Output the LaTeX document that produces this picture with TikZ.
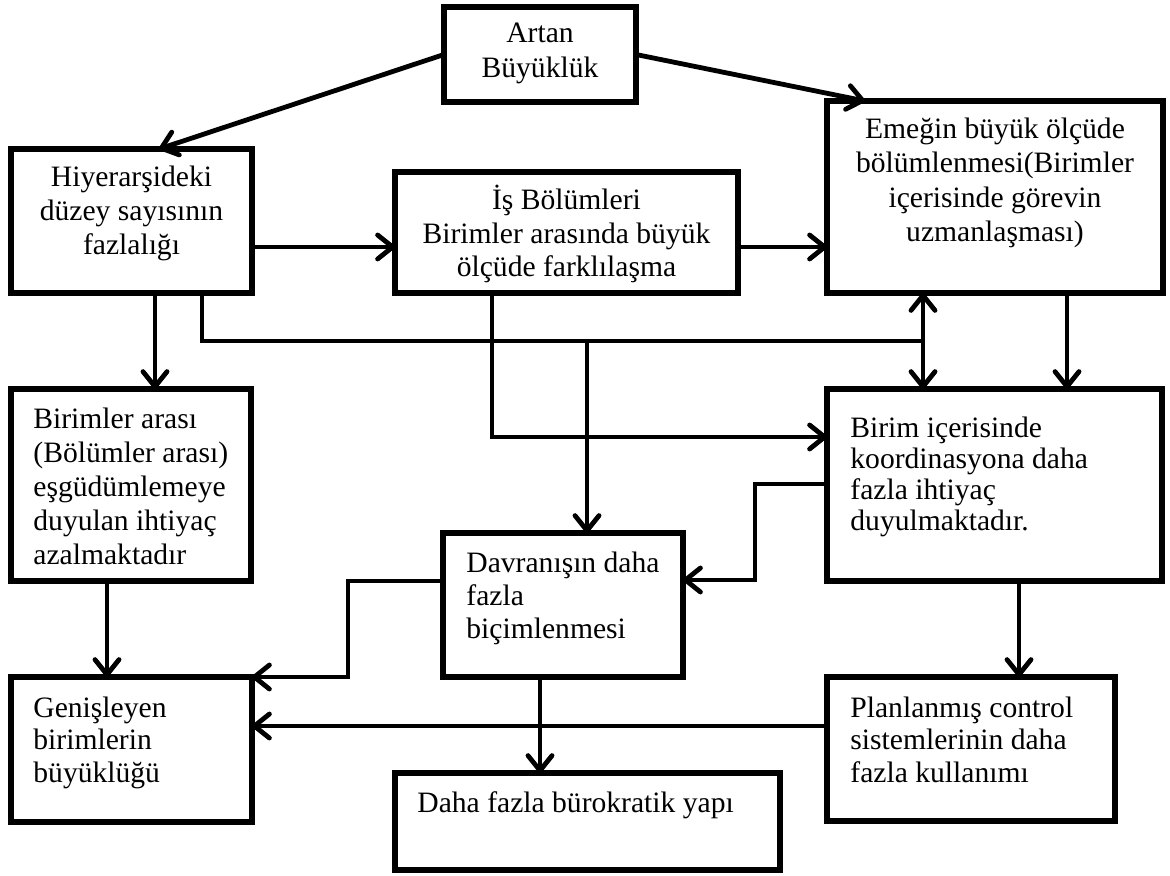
\documentclass[tikz,border=0pt]{standalone}
\usepackage{fontspec}
\setmainfont{Liberation Serif}
\usetikzlibrary{calc,arrows.meta}
\begin{document}
\begin{tikzpicture}[x=0.5pt,y=-0.5pt,
  box/.style 2 args={draw, line width=2.8pt, inner sep=0pt, outer sep=0pt,
    minimum width=#1*0.5pt, minimum height=#2*0.5pt},
  txtc/.style={font=\fontsize{14.8}{#1}\selectfont, inner sep=0pt, align=center, anchor=base},
  txtl/.style={font=\fontsize{14.8}{#1}\selectfont, inner sep=0pt, align=left, anchor=base west},
  con/.style={line width=2.4pt},
  tip/.style={Straight Barb[length=7.5pt,width=12pt,round]},
  arr/.style={line width=2.4pt, -{Straight Barb[length=7.5pt,width=12pt,round]}},
  darr/.style={line width=2.4pt, {Straight Barb[length=7.5pt,width=12pt,round]}-{Straight Barb[length=7.5pt,width=12pt,round]}}
]
\path[use as bounding box] (0,0) rectangle (1170,876);

% boxes
\node[box={192}{95}]  (A)  at (540,54.5) {};
\node[box={241}{144}] (H)  at (131.5,221) {};
\node[box={343}{121}] (I)  at (566.5,232.5) {};
\node[box={336}{192}] (E)  at (995,197) {};
\node[box={240}{192}] (BA) at (131,485) {};
\node[box={335}{192}] (BI) at (994.5,485) {};
\node[box={240}{144}] (D)  at (563,605) {};
\node[box={241}{145}] (G)  at (131.5,749.5) {};
\node[box={288}{144}] (P)  at (971,749) {};
\node[box={385}{97}]  (B)  at (587.5,821.5) {};

% texts (anchor = baseline of the last line)
\node[txtc=17.5pt] (tA) at (540,78) {Artan\\Büyüklük};
\node[txtc=17pt] (tH) at (131.5,255) {Hiyerarşideki\\düzey sayısının\\fazlalığı};
\node[txtc=16.8pt] (tI) at (566.5,277) {İş Bölümleri\\Birimler arasında büyük\\ölçüde farklılaşma};
\node[txtc=17.3pt] (tE) at (995,242) {Emeğin büyük ölçüde\\bölümlenmesi(Birimler\\içerisinde görevin\\uzmanlaşması)};
\node[txtl=17pt] (tBA) at (33,564) {Birimler arası\\(Bölümler arası)\\eşgüdümlemeye\\duyulan ihtiyaç\\azalmaktadır};
\node[txtl=15.5pt] (tBI) at (850,530) {Birim içerisinde\\koordinasyona daha\\fazla ihtiyaç\\duyulmaktadır.};
\node[txtl=16.5pt] (tD) at (466,638) {Davranışın daha\\fazla\\biçimlenmesi};
\node[txtl=16.25pt] (tG) at (33,782) {Genişleyen\\birimlerin\\büyüklüğü};
\node[txtl=16.25pt] (tP) at (850,782) {Planlanmış control\\sistemlerinin daha\\fazla kullanımı};
\node[txtl=16.5pt] (tB) at (417,812) {Daha fazla bürokratik yapı};

% connectors
\draw[arr] (A.west) -- ($(H.north west)+(148,0)$);
\draw[arr] (A.east) -- ($(E.north west)+(38,0)$);
\coordinate (hr) at ($(H.south east)+(0,-46)$);
\draw[arr] (hr) -- (hr -| I.west);
\coordinate (ir) at ($(I.south east)+(0,-46)$);
\draw[arr] (ir) -- (ir -| E.west);
\draw[arr] ($(H.south west)+(144,0)$) -- ($(BA.north west)+(144,0)$);
\coordinate (hl) at ($(E.south west)+(96,48)$);
\draw[con] ($(H.south west)+(191,0)$) |- (hl);
\draw[darr] ($(E.south west)+(96,0)$) -- ($(BI.north west)+(96,0)$);
\draw[arr] ($(I.south west)+(97,0)$) |- ($(BI.north west)+(0,48)$);
\coordinate (dt) at ($(D.north west)+(144,0)$);
\draw[arr] (dt |- hl) -- (dt);
\draw[arr] ($(E.south west)+(240,0)$) -- ($(BI.north west)+(240,0)$);
\draw[arr] ($(BI.north west)+(0,95)$) -- ++(-72,0) |- ($(D.north east)+(0,47)$);
\draw[arr] ($(D.north west)+(0,48)$) -- ++(-95,0) |- (G.north east);
\coordinate (pl) at ($(P.north west)+(0,49)$);
\draw[arr] (pl) -- (pl -| G.east);
\draw[arr] ($(D.south west)+(97,0)$) -- ($(B.north west)+(145,0)$);
\draw[arr] ($(BA.south west)+(96,0)$) -- ($(G.north west)+(96,0)$);
\draw[arr] ($(BI.south west)+(192,0)$) -- ($(P.north west)+(192,0)$);
\end{tikzpicture}
\end{document}
